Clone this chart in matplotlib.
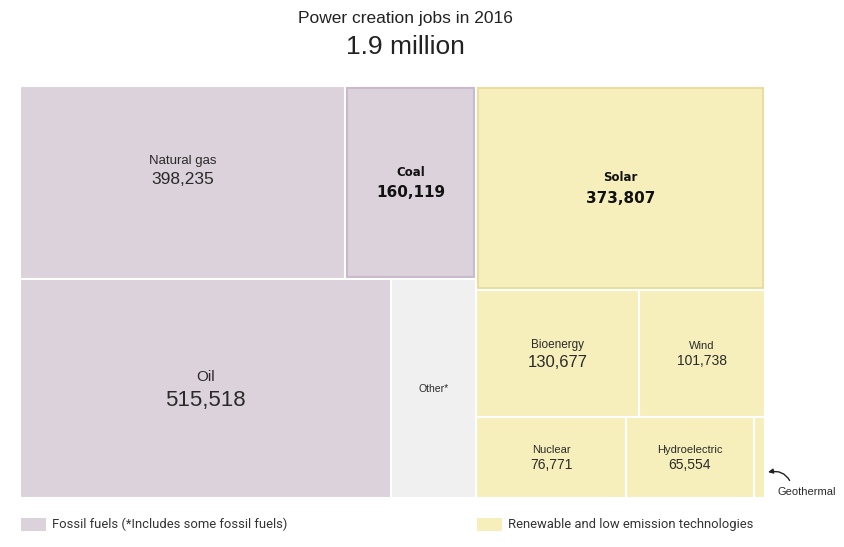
import matplotlib.pyplot as plt
from matplotlib.patches import Rectangle

# Power creation jobs in 2016, by technology
categories = ["Natural gas", "Coal", "Oil", "Other*",
              "Solar", "Bioenergy", "Wind", "Nuclear", "Hydroelectric", "Geothermal"]
jobs = [398235, 160119, 515518, 118000,
        373807, 130677, 101738, 76771, 65554, 5768]
blocks = ["fossil", "fossil", "fossil", "fossil",
          "renewable", "renewable", "renewable", "renewable", "renewable", "renewable"]
rows = [0, 0, 1, 1, 0, 1, 1, 2, 2, 2]

title = "Power creation jobs in 2016"
subtitle = "1.9 million"
legend_labels = ["Fossil fuels (*Includes some fossil fuels)",
                 "Renewable and low emission technologies"]

#Colours
fossil_col = "#dcd2dc"
renew_col = "#f7efbb"
other_col = "#f0f0f0"
colors = [fossil_col, fossil_col, fossil_col, other_col,
          renew_col, renew_col, renew_col, renew_col, renew_col, renew_col]
highlight = {"Coal": "#c9b9cc", "Solar": "#e9dd9f"}

#Label sizes (name, value) and extra vertical shift in points
label_sizes = {"Natural gas": (9.5, 12.5), "Coal": (8.5, 11), "Oil": (11, 16),
               "Other*": (7.5, 0), "Solar": (8.5, 11), "Bioenergy": (8.5, 12),
               "Wind": (8, 10), "Nuclear": (8, 10), "Hydroelectric": (8, 10)}
label_shift = {"Natural gas": 9}

W, H = 845, 547
fig = plt.figure(figsize=(W / 100, H / 100), dpi=100)

#Treemap area in pixels
left, top, right, bottom = 20, 86, 765, 498
ax = fig.add_axes([left / W, (H - bottom) / H, (right - left) / W, (bottom - top) / H])
ax.set_xlim(0, 1)
ax.set_ylim(1, 0)
ax.axis("off")
px = 1 / (right - left)
py = 1 / (bottom - top)

#Compute slice-and-dice layout from the values
total = sum(jobs)
rects = {}
x0 = 0
for block in ["fossil", "renewable"]:
    idx = [i for i in range(len(jobs)) if blocks[i] == block]
    btot = sum(jobs[i] for i in idx)
    bw = btot / total
    y0 = 0
    for r in sorted(set(rows[i] for i in idx)):
        ridx = [i for i in idx if rows[i] == r]
        rtot = sum(jobs[i] for i in ridx)
        rh = rtot / btot
        x = x0
        for i in ridx:
            w = bw * jobs[i] / rtot
            rects[i] = (x, y0, w, rh)
            x += w
        y0 += rh
    x0 += bw

for i, name in enumerate(categories):
    x, y, w, h = rects[i]
    ax.add_patch(Rectangle((x, y), w, h, facecolor=colors[i], edgecolor="white", linewidth=1.5))
    if name in highlight:
        ax.add_patch(Rectangle((x + 2 * px, y + 2 * py), w - 4 * px, h - 4 * py,
                               fill=False, edgecolor=highlight[name], linewidth=1.5))
    if name not in label_sizes:
        continue
    cx, cy = x + w / 2, y + h / 2
    ns, vs = label_sizes[name]
    bold = "bold" if name in highlight else "normal"
    fam = "DejaVu Sans" if name in highlight else "Liberation Sans"
    col = "#111111" if name in highlight else "#2a2a2a"
    dy = label_shift.get(name, 0)
    if vs == 0:
        ax.annotate(name, (cx, cy), xytext=(0, dy), textcoords="offset points",
                    ha="center", va="center", fontsize=ns, color=col, family=fam)
        continue
    off = 7.5 if name in highlight else (ns + vs) / 2 * 0.62
    ax.annotate(name, (cx, cy), xytext=(0, off + dy), textcoords="offset points",
                ha="center", va="center", fontsize=ns, color=col,
                family=fam, fontweight=bold)
    ax.annotate(f"{jobs[i]:,}", (cx, cy), xytext=(0, -off + dy), textcoords="offset points",
                ha="center", va="center", fontsize=vs, color=col,
                family=fam, fontweight=bold)

#Geothermal callout
gi = categories.index("Geothermal")
gx, gy, gw, gh = rects[gi]
ax.annotate("Geothermal", (gx + gw + 3 * px, gy + 0.68 * gh), xytext=(807, H - 492),
            textcoords="figure pixels", ha="center", va="center", fontsize=8,
            color="#2a2a2a", family="Liberation Sans", annotation_clip=False,
            arrowprops=dict(arrowstyle="-|>", color="#222222", lw=1, mutation_scale=7,
                            connectionstyle="arc3,rad=0.45", relpos=(0.25, 1.0),
                            shrinkA=3, shrinkB=0))

#Titles
fig.text(405 / W, 1 - 18 / H, title, ha="center", va="center", fontsize=12.5,
         color="#222222", family="Liberation Sans")
fig.text(405 / W, 1 - 47 / H, subtitle, ha="center", va="center", fontsize=19,
         color="#222222", family="Liberation Sans")

#Legend
for lx, col, lab in [(21, fossil_col, legend_labels[0]), (477, renew_col, legend_labels[1])]:
    fig.add_artist(Rectangle((lx / W, 1 - 531 / H), 25 / W, 13 / H, facecolor=col,
                             edgecolor="none", transform=fig.transFigure))
    fig.text((lx + 31) / W, 1 - 524.5 / H, lab, ha="left", va="center", fontsize=9.4,
             color="#333333", family="Roboto")

fig.savefig("out.png", dpi=100)
plt.close()
